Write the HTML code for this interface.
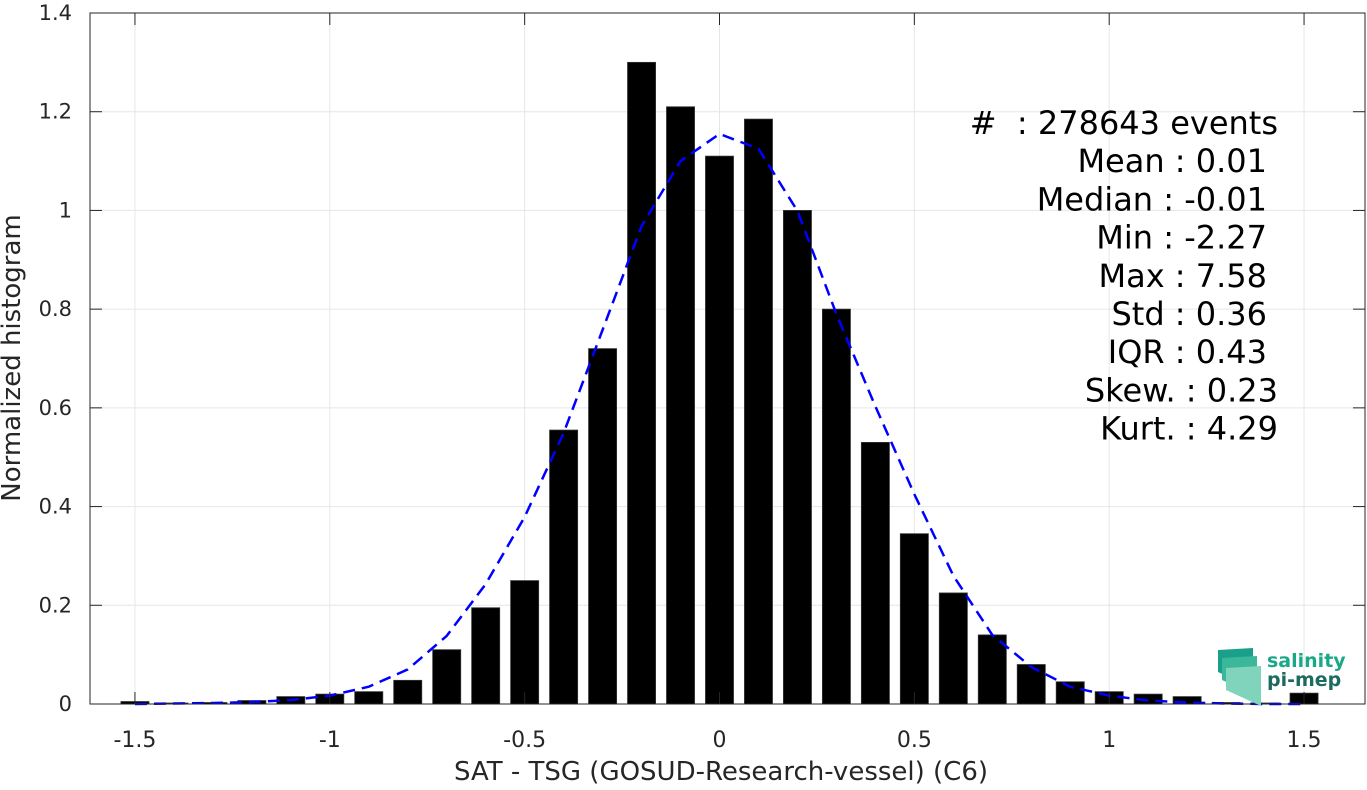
<!DOCTYPE html>
<html><head><meta charset="utf-8"><style>
body{margin:0;background:#fff;font-family:"Liberation Sans","DejaVu Sans",sans-serif}
svg text{font-family:"DejaVu Sans","Liberation Sans",sans-serif;white-space:pre}
</style></head><body>
<svg id="c" width="1367" height="785" xmlns="http://www.w3.org/2000/svg"></svg>
<script>
const binCenters=[-1.5,-1.4,-1.3,-1.2,-1.1,-1.0,-0.9,-0.8,-0.7,-0.6,-0.5,-0.4,-0.3,-0.2,-0.1,0,0.1,0.2,0.3,0.4,0.5,0.6,0.7,0.8,0.9,1.0,1.1,1.2,1.3,1.4,1.5];
const barValues=[0.005,0.002,0.003,0.007,0.015,0.02,0.025,0.048,0.11,0.195,0.25,0.555,0.72,1.30,1.21,1.11,1.185,1.0,0.80,0.53,0.345,0.225,0.14,0.08,0.045,0.025,0.02,0.015,0.003,0.002,0.022];
const fitValues=[0.0,0.001,0.002,0.004,0.008,0.017,0.035,0.07,0.138,0.243,0.379,0.549,0.758,0.968,1.10,1.155,1.125,0.999,0.79,0.603,0.425,0.26,0.14,0.075,0.035,0.017,0.007,0.003,0.001,0.0,0.0];
const xTicks=[-1.5,-1,-0.5,0,0.5,1,1.5];
const xTickLabels=["-1.5","-1","-0.5","0","0.5","1","1.5"];
const yTicks=[0,0.2,0.4,0.6,0.8,1,1.2,1.4];
const yTickLabels=["0","0.2","0.4","0.6","0.8","1","1.2","1.4"];
const statLabels=["#  : 278643 events","Mean : 0.01","Median : -0.01","Min : -2.27","Max : 7.58","Std : 0.36","IQR : 0.43","Skew. : 0.23","Kurt. : 4.29"];

const L=90,R=1365,T=13,B=704;
const X=v=>719.5+v*389.7, Y=v=>B-v*(B-T)/1.4;
const svg=document.getElementById('c');const NS="http://www.w3.org/2000/svg";
function mk(tag,at,txt){const e=document.createElementNS(NS,tag);for(const k in at)e.setAttribute(k,at[k]);if(txt!=null)e.textContent=txt;svg.appendChild(e);return e;}
xTicks.forEach(t=>{const g=mk('line',{x1:X(t),x2:X(t),y1:T,y2:B,stroke:'#e6e6e6','stroke-width':1});

});
yTicks.forEach(t=>{const g=mk('line',{x1:L,x2:R,y1:Y(t),y2:Y(t),stroke:'#e6e6e6','stroke-width':1});

});
const bw=0.072*389.7;
binCenters.forEach((c,i)=>{const h=barValues[i]*(B-T)/1.4;const r=mk('rect',{x:X(c)-bw/2,y:B-h,width:bw,height:h,fill:'#000',stroke:'#333','stroke-width':0.8});

});
const p=mk('polyline',{points:binCenters.map((c,i)=>X(c)+','+Y(fitValues[i])).join(' '),fill:'none',stroke:'#0000ff','stroke-width':2.5,'stroke-dasharray':'12,7'});


const bx=mk('rect',{x:L,y:T,width:R-L,height:B-T,fill:'none',stroke:'#262626','stroke-width':1});


xTicks.forEach((t,i)=>{mk('line',{x1:X(t),x2:X(t),y1:B,y2:B-12,stroke:'#262626'});mk('line',{x1:X(t),x2:X(t),y1:T,y2:T+12,stroke:'#262626'});
const tl=mk('text',{x:X(t),y:B+43,'text-anchor':'middle','font-size':22,fill:'#262626'},xTickLabels[i]);

});
yTicks.forEach((t,i)=>{mk('line',{x1:L,x2:L+12,y1:Y(t),y2:Y(t),stroke:'#262626'});mk('line',{x1:R,x2:R-12,y1:Y(t),y2:Y(t),stroke:'#262626'});
const tl=mk('text',{x:L-18,y:Y(t)+7,'text-anchor':'end','font-size':21,fill:'#262626'},yTickLabels[i]);

});
const xt=mk('text',{x:721,y:780,'text-anchor':'middle','font-size':26,fill:'#262626'},'SAT - TSG (GOSUD-Research-vessel) (C6)');


const yt=mk('text',{x:0,y:0,'text-anchor':'middle','font-size':26,fill:'#262626',transform:'translate(20,358) rotate(-90)'},'Normalized histogram');


const ends=[1278,1267,1267,1267,1267,1267,1267,1278,1278];
statLabels.forEach((s,i)=>{const st=mk('text',{x:ends[i],y:134+i*38.2,'text-anchor':'end','font-size':32,fill:'#000'},s);

});
const lg=mk('g',{});
[['#1aa08a',1218,650],['#3bb89a',1222,658],['#7fd4bb',1226,668]].forEach(a=>{const q=document.createElementNS(NS,'polygon');q.setAttribute('points',`${a[1]},${a[2]} ${a[1]+35},${a[2]-2} ${a[1]+35},${a[2]+38} ${a[1]},${a[2]+22}`);q.setAttribute('fill',a[0]);lg.appendChild(q);});
const t1=document.createElementNS(NS,'text');t1.setAttribute('x',1267);t1.setAttribute('y',667);t1.setAttribute('font-size',19);t1.setAttribute('font-weight','bold');t1.setAttribute('fill','#1aa889');t1.textContent='salinity';lg.appendChild(t1);
const t2=document.createElementNS(NS,'text');t2.setAttribute('x',1267);t2.setAttribute('y',686);t2.setAttribute('font-size',19);t2.setAttribute('font-weight','bold');t2.setAttribute('fill','#1d6b5e');t2.textContent='pi-mep';lg.appendChild(t2);
svg.appendChild(lg);
</script>
</body></html>
